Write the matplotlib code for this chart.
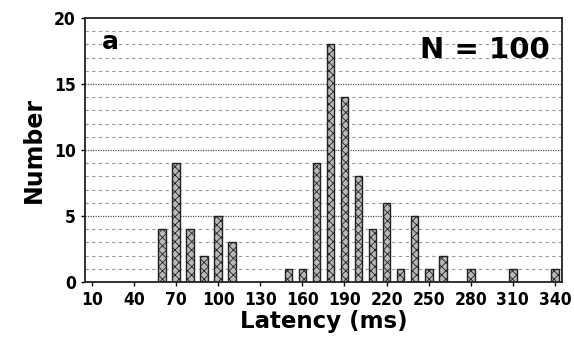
import matplotlib.pyplot as plt
import numpy as np

# latency histogram, 10 ms bins
latency = list(range(10, 350, 10))
counts = [0, 0, 0, 0, 0, 4, 9, 4, 2, 5, 3, 0, 0, 0, 1, 1, 9, 18, 14, 8,
          4, 6, 1, 5, 1, 2, 0, 1, 0, 0, 1, 0, 0, 1]
tick_labels = [str(v) for v in latency[::3]]

plt.rcParams['font.family'] = ['Liberation Sans Narrow', 'DejaVu Sans']
plt.rcParams['hatch.linewidth'] = 0.6

fig = plt.figure(figsize=(5.74, 3.46), dpi=100)
ax = fig.add_axes([0.148, 0.185, 0.831, 0.763])

x = np.arange(len(latency))

# background grid: dashed every unit, dotted every 5
for y in range(1, 20):
    if y % 5 == 0:
        ax.axhline(y, color='#555555', lw=0.9, ls=(0, (1, 1)), zorder=0)
    else:
        ax.axhline(y, color='#999999', lw=0.8, ls=(0, (3, 3)), zorder=0)

ax.bar(x, counts, width=0.55, facecolor='#b8b8b8', edgecolor='#222222',
       hatch='xxxx', linewidth=1.0, zorder=2)

ax.set_xlim(-0.5, len(latency) - 0.5)
ax.set_ylim(0, 20)
ax.set_yticks([0, 5, 10, 15, 20])
ax.set_xticks(x[::3])
ax.set_xticklabels(tick_labels)
ax.tick_params(axis='both', labelsize=12.5, length=3, width=1)
for lbl in ax.get_xticklabels() + ax.get_yticklabels():
    lbl.set_fontweight('bold')
    lbl.set_fontstretch('condensed')

for s in ax.spines.values():
    s.set_linewidth(1.3)
    s.set_color('#222222')

ax.set_xlabel('Latency (ms)', fontsize=16.5, fontweight='bold',
              family=['DejaVu Sans'], labelpad=1)
ax.set_ylabel('Number', fontsize=17, fontweight='bold',
              family=['DejaVu Sans'], labelpad=6)

ax.text(0.035, 0.91, 'a', transform=ax.transAxes, fontsize=18,
        fontweight='bold', family=['DejaVu Sans'], va='center', ha='left')
ax.text(0.975, 0.88, 'N = 100', transform=ax.transAxes, fontsize=21,
        fontweight='bold', family=['DejaVu Sans'], va='center', ha='right')

fig.savefig('out.png', dpi=100)
